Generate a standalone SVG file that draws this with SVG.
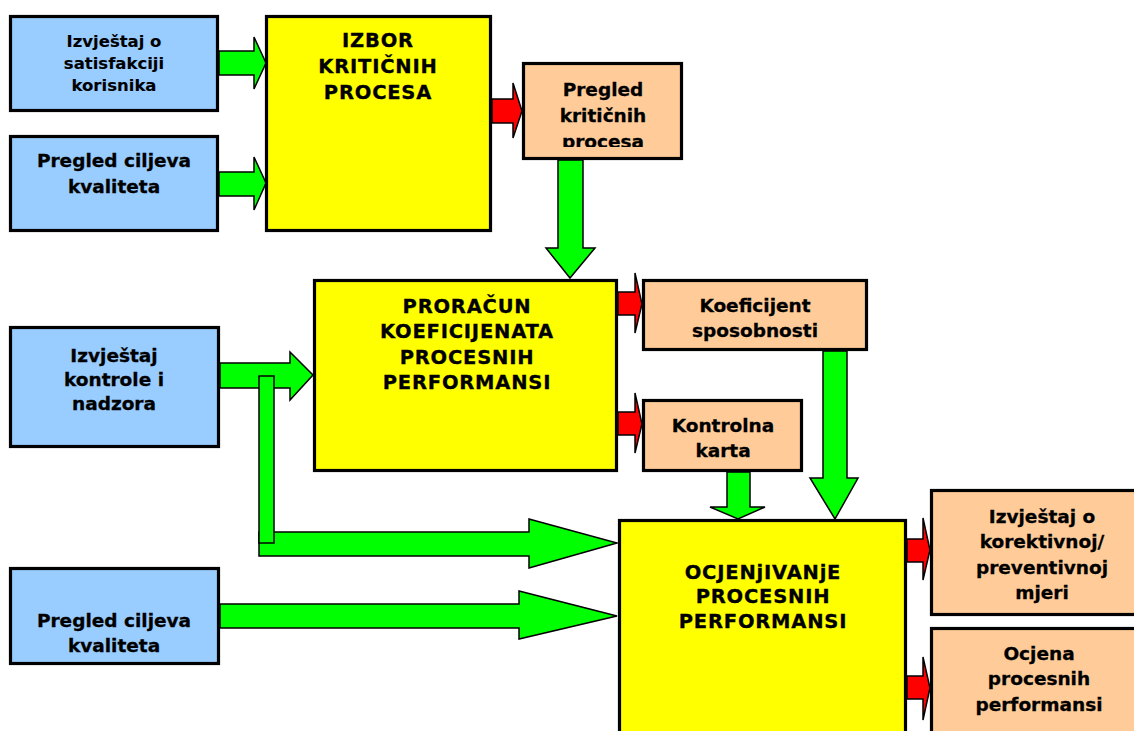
<svg xmlns="http://www.w3.org/2000/svg" width="1134" height="731" viewBox="0 0 1134 731">
<style>
.box{stroke:#000;stroke-width:3.2}
.blue{fill:#99CCFF}
.yel{fill:#FFFF00}
.peach{fill:#FFCC99}
.g{fill:#00FF00;stroke:#000;stroke-width:1.5;stroke-linejoin:miter}
.r{fill:#FF0000;stroke:#000;stroke-width:1.5}
text{font-family:"DejaVu Sans","Verdana",sans-serif;font-weight:bold;font-size:18.5px;fill:#000;stroke:#000;stroke-width:0.3;text-anchor:middle}
.s{font-size:16.5px;stroke-width:0.1}
.cap{font-size:19.5px;letter-spacing:0.8px}
</style>
<defs>
<clipPath id="clipPk"><rect x="522" y="62" width="161" height="85"/></clipPath>
</defs>
<rect width="1134" height="731" fill="#fff"/>

<g id="connectors">
<polygon class="g" points="219,51 254,51 254,37 266,63 254,89 254,75 219,75"/>
<polygon class="g" points="219,172 254,172 254,157 266,183 254,210 254,196 219,196"/>
<polygon class="r" points="492,99 513,99 513,83 522,111 513,138 513,123 492,123"/>
<polygon class="g" points="558,160 583,160 583,248 595,248 570,278 546,248 558,248"/>
<polygon class="g" points="220,363 290,363 290,352 313,375 290,400 290,388 220,388"/>
<polygon class="g" points="259,532 529,532 529,519 617,543 529,568 529,556 259,556"/>
<rect class="g" x="259" y="376" width="15" height="167"/>
<polygon class="r" points="618,292 635,292 635,273 642,304 635,333 635,315 618,315"/>
<polygon class="r" points="618,412 635,412 635,393 642,424 635,453 635,435 618,435"/>
<polygon class="g" points="727,472 750,472 750,507 765,507 738,519 710,507 727,507"/>
<polygon class="g" points="823,351 847,351 847,478 858,478 835,519 810,478 823,478"/>
<polygon class="g" points="220,604 519,604 519,591 617,616 519,639 519,628 220,628"/>
<polygon class="r" points="907,539 923,539 923,518 930,550 923,580 923,562 907,562"/>
<polygon class="r" points="907,676 923,676 923,657 930,688 923,720 923,699 907,699"/>
</g>

<g id="n-izvjestaj-satisfakcija">
<rect class="box blue" x="10.5" y="16.5" width="207" height="94"/>
<text class="s" x="114" y="47">Izvještaj o</text>
<text class="s" x="114" y="69">satisfakciji</text>
<text class="s" x="114" y="91">korisnika</text>
</g>

<g id="n-pregled-ciljeva-1">
<rect class="box blue" x="10.5" y="136.5" width="207" height="94"/>
<text x="114" y="167">Pregled ciljeva</text>
<text x="114" y="193">kvaliteta</text>
</g>

<g id="n-izbor">
<rect class="box yel" x="266.5" y="16.5" width="224" height="214"/>
<text class="cap" x="378" y="47">IZBOR</text>
<text class="cap" x="378" y="73">KRITIČNIH</text>
<text class="cap" x="378" y="99">PROCESA</text>
</g>

<g id="n-pregled-kriticnih">
<rect class="box peach" x="523.5" y="63.5" width="158" height="95"/>
<g clip-path="url(#clipPk)">
<text x="603" y="96">Pregled</text>
<text x="603" y="122">kritičnih</text>
<text x="603" y="148">procesa</text>
</g>
</g>

<g id="n-izvjestaj-kontrole">
<rect class="box blue" x="10.5" y="327.5" width="208" height="119"/>
<text x="114" y="362">Izvještaj</text>
<text x="114" y="386">kontrole i</text>
<text x="114" y="410">nadzora</text>
</g>

<g id="n-proracun">
<rect class="box yel" x="314.5" y="280.5" width="302" height="190"/>
<text class="cap" x="467" y="313">PRORAČUN</text>
<text class="cap" x="467" y="338">KOEFICIJENATA</text>
<text class="cap" x="467" y="364">PROCESNIH</text>
<text class="cap" x="467" y="389">PERFORMANSI</text>
</g>

<g id="n-koeficijent">
<rect class="box peach" x="643.5" y="280.5" width="223" height="69"/>
<text x="755" y="312">Koeficijent</text>
<text x="755" y="337">sposobnosti</text>
</g>

<g id="n-kontrolna">
<rect class="box peach" x="643.5" y="400.5" width="158" height="70"/>
<text x="723" y="432">Kontrolna</text>
<text x="723" y="457">karta</text>
</g>

<g id="n-pregled-ciljeva-2">
<rect class="box blue" x="10.5" y="568.5" width="208" height="95"/>
<text x="114" y="627">Pregled ciljeva</text>
<text x="114" y="652">kvaliteta</text>
</g>

<g id="n-ocjenjivanje">
<rect class="box yel" x="619.5" y="520.5" width="286" height="230"/>
<text class="cap" x="763" y="579">OCJENjIVANjE</text>
<text class="cap" x="763" y="603">PROCESNIH</text>
<text class="cap" x="763" y="628">PERFORMANSI</text>
</g>

<g id="n-izvjestaj-korektivnoj">
<rect class="box peach" x="931.5" y="490.5" width="220" height="124"/>
<text x="1042" y="523">Izvještaj o</text>
<text x="1042" y="548">korektivnoj/</text>
<text x="1042" y="574">preventivnoj</text>
<text x="1042" y="599">mjeri</text>
</g>

<g id="n-ocjena">
<rect class="box peach" x="931.5" y="628.5" width="220" height="130"/>
<text x="1039" y="660">Ocjena</text>
<text x="1039" y="685">procesnih</text>
<text x="1039" y="711">performansi</text>
</g>
</svg>
